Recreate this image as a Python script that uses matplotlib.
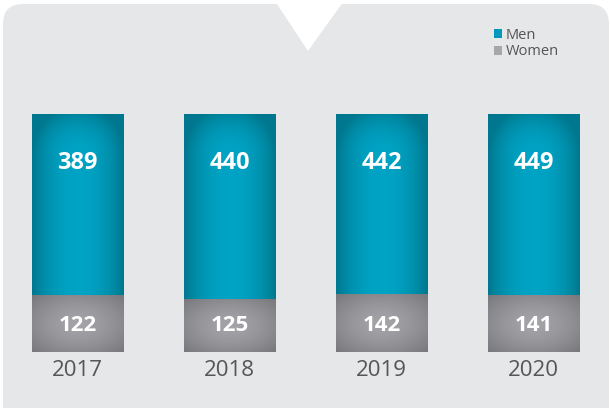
import numpy as np
import matplotlib.pyplot as plt
from matplotlib.patches import FancyBboxPatch, Polygon, Patch

years = ["2017", "2018", "2019", "2020"]
men = [389, 440, 442, 449]
women = [122, 125, 142, 141]

plt.rcParams['font.family'] = ['Open Sans', 'DejaVu Sans']

fig = plt.figure(figsize=(6.1, 4.08), dpi=100)
fig.patch.set_facecolor('white')

# grey rounded panel with a white notch at the top
panel = FancyBboxPatch((0.03, -0.5), 6.06, 4.54, boxstyle="round,pad=0,rounding_size=0.2",
                       transform=fig.dpi_scale_trans, facecolor='#e6e7e9', edgecolor='none', zorder=-2)
fig.patches.append(panel)
notch = Polygon([(2.73, 4.1), (3.46, 4.1), (3.08, 3.57)], closed=True,
                transform=fig.dpi_scale_trans, facecolor='white', edgecolor='none', zorder=-1)
fig.patches.append(notch)

ax = fig.add_axes([0, 56 / 408, 1, 238 / 408])
ax.set_facecolor('none')

men = np.array(men, dtype=float)
women = np.array(women, dtype=float)
total = men + women
w_share = women / total
m_share = men / total
x = np.arange(len(years))

men_color = '#0099bb'
women_color = '#a7a7a9'

bars_w = ax.bar(x, w_share, width=0.6, color=women_color, zorder=2)
bars_m = ax.bar(x, m_share, bottom=w_share, width=0.6, color=men_color, zorder=2)


def shade(c_center, c_edge, radial, top_dark=0.0):
    n = 64
    xx, yy = np.meshgrid(np.linspace(-1, 1, n), np.linspace(-1, 1, n))
    if radial:
        t = np.clip(np.sqrt(xx ** 2 + yy ** 2) / 1.4, 0, 1) ** 1.5
    else:
        t = np.abs(xx) ** 2.2
        t = np.clip(t + top_dark * np.clip((yy - 0.55) / 0.45, 0, 1) ** 2, 0, 1)
    c0 = np.array(c_center)
    c1 = np.array(c_edge)
    return c0 + (c1 - c0) * t[..., None]


img_m = shade((0.0, 0.64, 0.77), (0.0, 0.47, 0.56), radial=False, top_dark=0.7)
img_w = shade((0.64, 0.64, 0.66), (0.47, 0.47, 0.49), radial=True)

for bars, img in ((bars_m, img_m), (bars_w, img_w)):
    for b in bars:
        x0, y0 = b.get_x(), b.get_y()
        im = ax.imshow(img, extent=[x0, x0 + b.get_width(), y0, y0 + b.get_height()],
                       origin='lower', aspect='auto', interpolation='bilinear', zorder=3)
        im.set_clip_path(b)

ax.set_xlim(-77.5 / 152, (610 - 77.5) / 152)
ax.set_ylim(0, 1)

for i in range(len(years)):
    ax.text(x[i], 0.795, f"{int(men[i])}", ha='center', va='center',
            color='white', fontsize=17, fontweight='bold', zorder=5)
    ax.text(x[i], 0.112, f"{int(women[i])}", ha='center', va='center',
            color='white', fontsize=16, fontweight='bold', zorder=5)

ax.set_xticks(x)
ax.set_xticklabels(years, fontsize=16, color='#555555')
ax.tick_params(axis='x', length=0, pad=6)
ax.set_yticks([])
for s in ax.spines.values():
    s.set_visible(False)

handles = [Patch(facecolor=men_color), Patch(facecolor=women_color)]
ax.legend(handles, ["Men", "Women"], loc='upper left', bbox_to_anchor=(0.798, 0.95),
          bbox_transform=fig.transFigure, frameon=False, fontsize=10.5, handlelength=0.55,
          handleheight=0.55, handletextpad=0.25, labelspacing=0.12, borderpad=0,
          labelcolor='#555555')

fig.savefig('out.png', dpi=100, facecolor='white')
